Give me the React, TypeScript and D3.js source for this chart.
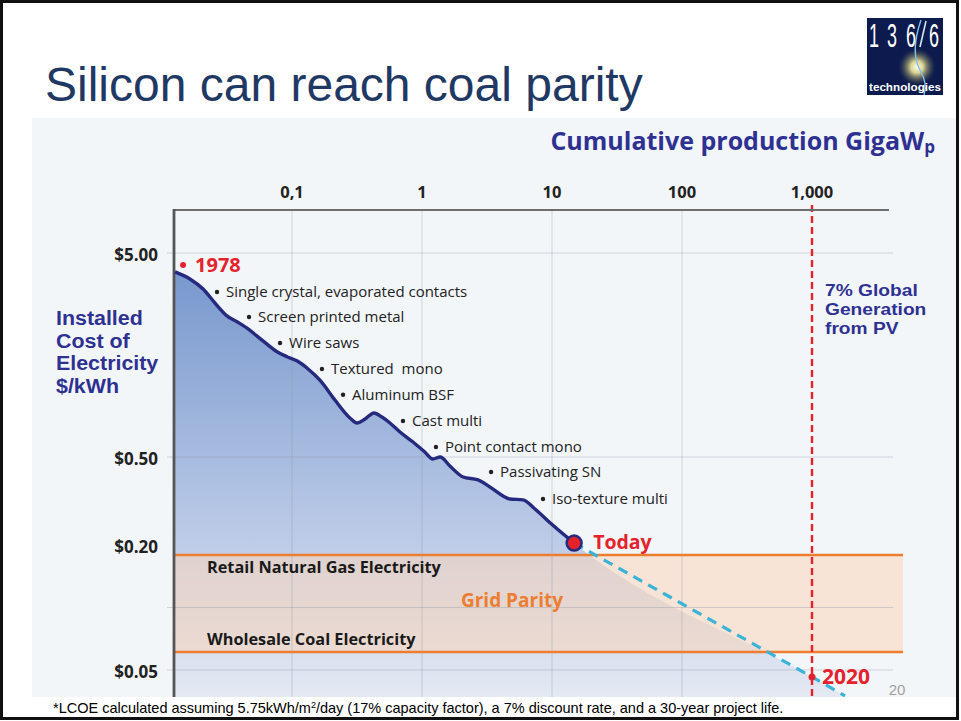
import React from "react";
import * as d3 from "d3";

// ---------- data ----------
const xTickValues = [0.1, 1, 10, 100, 1000];
const xTickLabels = ["0,1", "1", "10", "100", "1,000"];
const yTickValues = [5, 0.5, 0.2, 0.05];
const yTickLabels = ["$5.00", "$0.50", "$0.20", "$0.05"];
const yGridValues = [5, 0.5, 0.1, 0.05];

// cumulative production (GWp) vs installed cost of electricity ($/kWh)
const historyGW = [
  0.0126, 0.0164, 0.0207, 0.0256, 0.0316, 0.0378, 0.0451, 0.0588, 0.0767, 0.0916,
  0.109, 0.133, 0.164, 0.214, 0.279, 0.316, 0.365, 0.427, 0.492, 0.567,
  0.677, 0.853, 1.05, 1.21, 1.38, 1.64, 2.07, 2.7, 3.33, 4.75,
  5.98, 7.4, 9.66, 14.8,
];
const historyCost = [
  4.04, 3.73, 3.33, 2.84, 2.46, 2.3, 2.14, 1.87, 1.64, 1.55,
  1.48, 1.35, 1.19, 0.951, 0.777, 0.734, 0.768, 0.822, 0.785, 0.734,
  0.663, 0.592, 0.529, 0.49, 0.5, 0.455, 0.406, 0.394, 0.366, 0.323,
  0.32, 0.291, 0.252, 0.204,
];
const projectionGW = [14.8, 1000, 1795];
const projectionCost = [0.204, 0.0463, 0.0375];

const milestoneLabels = [
  "Single crystal, evaporated contacts",
  "Screen printed metal",
  "Wire saws",
  "Textured  mono",
  "Aluminum BSF",
  "Cast multi",
  "Point contact mono",
  "Passivating SN",
  "Iso-texture multi",
];
const milestoneGW = [0.0265, 0.0467, 0.0809, 0.17, 0.247, 0.714, 1.28, 3.4, 8.53];
const milestoneCost = [3.22, 2.43, 1.81, 1.35, 1.01, 0.751, 0.56, 0.428, 0.323];

const retailGasCost = 0.179;
const wholesaleCoalCost = 0.061;
const targetGW = 1000;
const targetLabel = ["7% Global", "Generation", "from PV"];
const yAxisTitle = ["Installed", "Cost of", "Electricity", "$/kWh"];

// ---------- layout ----------
const W = 961;
const H = 721;
const plotL = 174;
const plotT = 210;
const plotR = 889;
const plotB = 697;
const bandR = 903;

const x = d3.scaleLog().domain([0.1, 1000]).range([292, 812]);
const y = d3.scaleLog().domain([5, 0.5, 0.2, 0.05]).range([253, 457, 545, 670]);

const NAVY = "#2e3192";
const LINE = "#262a7e";
const RED = "#e4222b";
const ORANGE = "#ec7d31";
const FONT = "'Open Sans', sans-serif";
const SANS = "'Liberation Sans', Arial, sans-serif";

export default function App() {
  const hist = historyGW.map((g, i) => [x(g), y(historyCost[i])] as [number, number]);
  const proj = projectionGW.map((g, i) => [x(g), y(projectionCost[i])] as [number, number]);
  const lineGen = d3.line().curve(d3.curveMonotoneX);
  const areaGen = d3
    .area<[number, number]>()
    .x((d) => d[0])
    .y0(plotB)
    .y1((d) => d[1])
    .curve(d3.curveMonotoneX);
  const areaPts = hist.concat(proj.slice(1));
  const today = hist[hist.length - 1];
  const p2020 = proj[1];
  const start = hist[0];
  const yGas = y(retailGasCost);
  const yCoal = y(wholesaleCoalCost);
  const xT = x(targetGW);

  return (
    <div style={{ position: "absolute", left: 0, top: 0, width: W, height: H }}>
      <svg width={W} height={H} style={{ display: "block" }}>
        <defs>
          <linearGradient id="areaGrad" gradientUnits="userSpaceOnUse" x1="0" y1="253" x2="0" y2={plotB}>
            <stop offset="0" stopColor="#7394cb" />
            <stop offset="0.45" stopColor="#a6bbdf" />
            <stop offset="0.67" stopColor="#bfcde8" />
            <stop offset="1" stopColor="#e4e9f2" />
          </linearGradient>
          <radialGradient id="glow" cx="0.5" cy="0.5" r="0.5">
            <stop offset="0" stopColor="#ffffee" stopOpacity="1" />
            <stop offset="0.3" stopColor="#f3ea9a" stopOpacity="0.9" />
            <stop offset="0.7" stopColor="#8a8a60" stopOpacity="0.35" />
            <stop offset="1" stopColor="#0c1a4d" stopOpacity="0" />
          </radialGradient>
          <clipPath id="chartClip">
            <rect x={32} y={118} width={925} height={plotB - 118} />
          </clipPath>
        </defs>

        {/* slide */}
        <rect x={0} y={0} width={W} height={H} fill="#ffffff" />
        <text x={45} y={101} fontFamily={SANS} fontSize={48} fill="#1f3864">
          Silicon can reach coal parity
        </text>

        {/* logo */}
        <g>
          <rect x={867} y={18} width={76} height={77} fill="#0c1a4d" />
          <circle cx={917} cy={67} r={20} fill="url(#glow)" />
          <path d="M 921 20 Q 910 52 920 70 Q 928 84 924 95" stroke="#7cc0ee" strokeWidth={1.4} fill="none" />
          {["1", "3", "6", "6"].map((c, i) => (
            <text key={i} x={[869, 887, 906, 929][i]} y={47} fontFamily={SANS} fontSize={34} fill="#ffffff" textLength={10} lengthAdjust="spacingAndGlyphs">
              {c}
            </text>
          ))}
          <line x1={926} y1={21} x2={920} y2={47} stroke="#cfe6f8" strokeWidth={1.6} />
          <text x={905} y={91} textAnchor="middle" fontFamily={SANS} fontWeight={700} fontSize={11} fill="#ffffff" textLength={72} lengthAdjust="spacingAndGlyphs">
            technologies
          </text>
        </g>

        {/* chart background */}
        <rect x={32} y={118} width={925} height={plotB - 118} fill="#f3f6f9" />

        <g clipPath="url(#chartClip)">
          {/* area under cost curve */}
          <path d={areaGen(areaPts) || ""} fill="url(#areaGrad)" />
          {/* grid parity band */}
          <rect x={plotL} y={yGas} width={bandR - plotL} height={yCoal - yGas} fill="rgb(250,214,186)" fillOpacity={0.55} />
          {/* gridlines */}
          {xTickValues.slice(0, 4).map((v) => (
            <line key={"vx" + v} x1={x(v)} x2={x(v)} y1={plotT} y2={plotB} stroke="#8a93a3" strokeOpacity={0.35} strokeWidth={1} />
          ))}
          {yGridValues.map((v) => (
            <line key={"hy" + v} x1={167} x2={893} y1={y(v)} y2={y(v)} stroke="#8a93a3" strokeOpacity={0.35} strokeWidth={1} />
          ))}
          {/* band edges */}
          <line x1={plotL} x2={bandR} y1={yGas} y2={yGas} stroke={ORANGE} strokeWidth={2.5} />
          <line x1={plotL} x2={bandR} y1={yCoal} y2={yCoal} stroke={ORANGE} strokeWidth={2.5} />
          {/* projection */}
          <path d={d3.line()(proj) || ""} fill="none" stroke="#3bb3d6" strokeWidth={3.2} strokeDasharray="10,7" />
          {/* 1000 GW target */}
          <line x1={xT} x2={xT} y1={205} y2={plotB} stroke={RED} strokeWidth={2.4} strokeDasharray="7,4" />
        </g>

        {/* axes */}
        <line x1={plotL} x2={plotR} y1={plotT} y2={plotT} stroke="#6e6e6e" strokeWidth={2.2} />
        <line x1={plotL} x2={plotL} y1={plotT - 1} y2={plotB} stroke="#555555" strokeWidth={2.8} />

        {/* history curve */}
        <path d={lineGen(hist) || ""} fill="none" stroke={LINE} strokeWidth={3.4} strokeLinejoin="round" />

        {/* x tick labels */}
        {xTickValues.map((v, i) => (
          <text key={"xt" + v} x={x(v)} y={198} textAnchor="middle" fontFamily={FONT} fontWeight={700} fontSize={16.5} fill="#222">
            {xTickLabels[i]}
          </text>
        ))}
        {/* y tick labels */}
        {yTickValues.map((v, i) => (
          <text key={"yt" + v} x={158} y={y(v) + 2} dy="0.35em" textAnchor="end" fontFamily={FONT} fontWeight={700} fontSize={17} fill="#222">
            {yTickLabels[i]}
          </text>
        ))}

        {/* axis titles */}
        <text x={935} y={150} textAnchor="end" fontFamily={FONT} fontWeight={700} fontSize={25} fill={NAVY}>
          Cumulative production GigaW
          <tspan fontSize={17} dy={3}>p</tspan>
        </text>
        <g transform="translate(56,0) scale(1.07,1)">
          {yAxisTitle.map((t, i) => (
            <text key={t} x={0} y={325 + i * 22.7} fontFamily={SANS} fontWeight={700} fontSize={20} fill={NAVY}>
              {t}
            </text>
          ))}
        </g>
        <g transform={`translate(${xT + 13},0) scale(1.13,1)`}>
          {targetLabel.map((t, i) => (
            <text key={t} x={0} y={296 + i * 19.2} fontFamily={SANS} fontWeight={700} fontSize={17} fill={NAVY}>
              {t}
            </text>
          ))}
        </g>

        {/* milestones */}
        {milestoneLabels.map((t, i) => {
          const mx = x(milestoneGW[i]);
          const my = y(milestoneCost[i]);
          return (
            <g key={t}>
              <circle cx={mx} cy={my} r={2.2} fill="#222" />
              <text x={mx + 9} y={my} dy="0.35em" fontFamily={FONT} fontSize={15} fill="#222" style={{ whiteSpace: "pre" }}>
                {t}
              </text>
            </g>
          );
        })}

        {/* band labels */}
        <text x={207} y={yGas + 18} fontFamily={FONT} fontWeight={700} fontSize={16.3} fill="#1a1a1a">
          Retail Natural Gas Electricity
        </text>
        <text x={207} y={yCoal - 7} fontFamily={FONT} fontWeight={700} fontSize={16.3} fill="#1a1a1a">
          Wholesale Coal Electricity
        </text>
        <text x={512} y={(yGas + yCoal) / 2} dy="0.2em" textAnchor="middle" fontFamily={FONT} fontWeight={700} fontSize={19} fill={ORANGE}>
          Grid Parity
        </text>

        {/* 1978 */}
        <circle cx={start[0] + 8} cy={start[1] - 7} r={3} fill={RED} />
        <text x={start[0] + 20} y={start[1] - 7} dy="0.36em" fontFamily={FONT} fontWeight={700} fontSize={20} fill={RED}>
          1978
        </text>
        {/* Today */}
        <circle cx={today[0]} cy={today[1]} r={7.5} fill={RED} stroke={LINE} strokeWidth={2.5} />
        <text x={today[0] + 19} y={today[1] - 1} dy="0.36em" fontFamily={FONT} fontWeight={700} fontSize={19.5} fill={RED}>
          Today
        </text>
        {/* 2020 */}
        <circle cx={p2020[0]} cy={p2020[1]} r={3.5} fill={RED} />
        <text x={p2020[0] + 10} y={p2020[1]} dy="0.36em" fontFamily={FONT} fontWeight={700} fontSize={21} fill={RED}>
          2020
        </text>

        {/* slide number */}
        <text x={897} y={695} textAnchor="middle" fontFamily={SANS} fontSize={15} fill="#a0a0a0">
          20
        </text>

        {/* footnote */}
        <text x={53} y={713} fontFamily={SANS} fontSize={14.5} fill="#000">
          *LCOE calculated assuming 5.75kWh/m
          <tspan fontSize={9} dy={-5}>2</tspan>
          <tspan dy={5}>/day (17% capacity factor), a 7% discount rate, and a 30-year project life.</tspan>
        </text>

        {/* slide frame */}
        <rect x={1.5} y={1.5} width={956} height={717} fill="none" stroke="#111" strokeWidth={3} />
      </svg>
    </div>
  );
}
